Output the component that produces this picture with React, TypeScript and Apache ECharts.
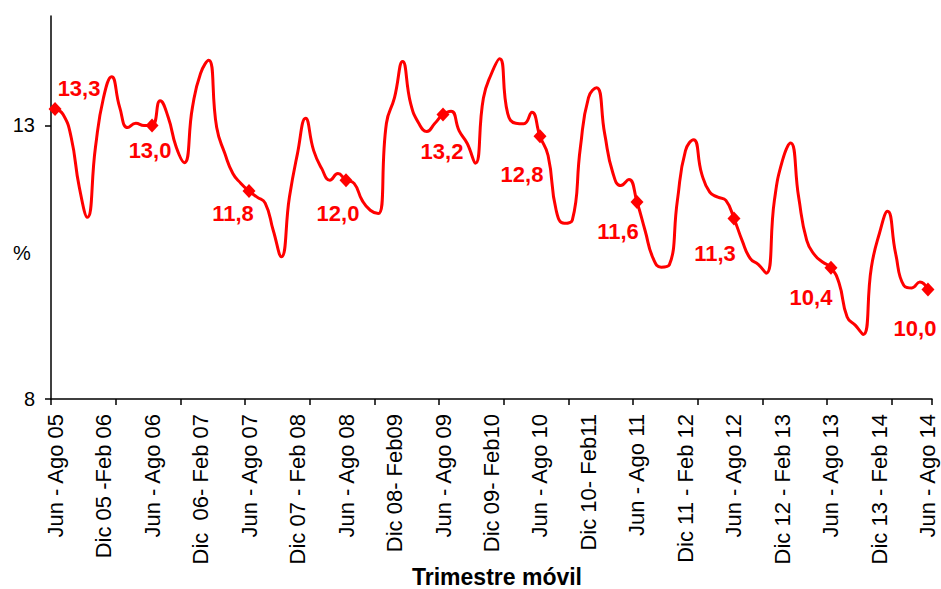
import React, { useEffect, useRef } from "react";
import * as echarts from "echarts";

// Labels shown on the category axis (every 6th month)
const tickLabels = [
  "Jun - Ago 05", "Dic 05 -Feb 06", "Jun - Ago 06", "Dic  06- Feb 07", "Jun - Ago 07",
  "Dic 07 - Feb 08", "Jun - Ago 08", "Dic 08- Feb09", "Jun - Ago 09", "Dic 09- Feb10",
  "Jun - Ago 10", "Dic 10- Feb11", "Jun - Ago 11", "Dic 11 - Feb 12", "Jun - Ago 12",
  "Dic 12 - Feb 13", "Jun - Ago 13", "Dic 13 - Feb 14", "Jun - Ago 14",
];

const monthNames = ["Ene", "Feb", "Mar", "Abr", "May", "Jun", "Jul", "Ago", "Sep", "Oct", "Nov", "Dic"];

// Monthly rolling-quarter rate (%), Jun-Ago 05 ... Jun-Ago 14
const rate = [
  13.3, 13.2, 12.78, 11.87, 11.32, 12.6, 13.51, 13.89, 13.33, 12.96, 13.04, 13.0,
  13.0, 13.45, 13.15, 12.6, 12.32, 13.33, 13.95, 14.19, 12.96, 12.49, 12.12, 11.94,
  11.8, 11.69, 11.58, 11.08, 10.6, 11.69, 12.49, 13.13, 12.54, 12.21, 12.0, 12.12,
  12.0, 11.94, 11.63, 11.45, 11.39, 13.04, 13.51, 14.17, 13.4, 13.04, 12.89, 13.04,
  13.2, 13.26, 12.9, 12.67, 12.31, 13.5, 13.95, 14.22, 13.22, 13.04, 13.03, 13.24,
  12.8, 12.45, 11.45, 11.21, 11.27, 12.6, 13.51, 13.69, 12.85, 12.14, 11.9, 12.01,
  11.6, 11.08, 10.57, 10.41, 10.45, 11.63, 12.54, 12.74, 12.12, 11.78, 11.69, 11.63,
  11.3, 10.9, 10.57, 10.46, 10.3, 11.63, 12.36, 12.68, 11.69, 10.9, 10.63, 10.5,
  10.4, 10.12, 9.5, 9.35, 9.18, 10.41, 11.03, 11.43, 10.66, 10.08, 10.03, 10.14,
  10.0,
];

// Indices of the highlighted (Jun - Ago) points
const markedIdx = [0, 12, 24, 36, 48, 60, 72, 84, 96, 108];
// Label offsets (px) relative to each marker
const labelOffsets = [
  [24, -21], [-2, 25], [-16, 22], [-8, 33], [-1, 37],
  [-18, 38], [-19, 29], [-19, 35], [-20, 30], [-13, 39],
];

const FONT = '"Liberation Sans", Arial, sans-serif';

function buildCategories(): string[] {
  const out: string[] = [];
  for (let i = 0; i < rate.length; i++) {
    if (i % 6 === 0) {
      out.push(tickLabels[i / 6]);
      continue;
    }
    const s = 5 + i;
    const e = s + 2;
    const m1 = monthNames[s % 12];
    const m3 = monthNames[e % 12];
    const y1 = String(5 + Math.floor(s / 12)).padStart(2, "0");
    const y3 = String(5 + Math.floor(e / 12)).padStart(2, "0");
    out.push(y1 === y3 ? `${m1} - ${m3} ${y3}` : `${m1} ${y1} - ${m3} ${y3}`);
  }
  return out;
}

export default function App() {
  const ref = useRef<HTMLDivElement>(null);

  useEffect(() => {
    document.body.style.margin = "0";
    if (!ref.current) return;
    const chart = echarts.init(ref.current, undefined, { renderer: "svg" });
    const categories = buildCategories();

    const seriesData = rate.map((v, i) => {
      const k = markedIdx.indexOf(i);
      if (k < 0) return v;
      return {
        value: v,
        symbol: "diamond",
        symbolSize: [13, 14],
        label: {
          show: true,
          position: "inside",
          offset: labelOffsets[k],
          formatter: (p: any) => Number(p.value).toFixed(1).replace(".", ","),
          color: "#FF0000",
          fontSize: 22,
          fontWeight: "bold",
          fontFamily: FONT,
        },
      };
    });

    chart.setOption({
      animation: false,
      grid: { left: 51, right: 9, top: 16, bottom: 190, containLabel: false },
      xAxis: {
        type: "category",
        data: categories,
        boundaryGap: true,
        axisLine: { show: true, lineStyle: { color: "#000", width: 1.5 } },
        axisTick: { show: true, interval: 7, length: 6, lineStyle: { color: "#000", width: 1.5 } },
        axisLabel: {
          interval: 5,
          rotate: 90,
          fontSize: 22,
          color: "#000",
          margin: 15,
          fontFamily: FONT,
        },
        splitLine: { show: false },
      },
      yAxis: {
        type: "value",
        min: 8,
        max: 15,
        interval: 1,
        axisLine: { show: true, lineStyle: { color: "#000", width: 1.5 } },
        axisTick: { show: true, length: 6, customValues: [8, 13], lineStyle: { color: "#000", width: 1.5 } },
        axisLabel: {
          customValues: [8, 13],
          formatter: (v: number) => (v === 8 || v === 13 ? String(v) : ""),
          fontSize: 20,
          color: "#000",
          margin: 16,
          fontFamily: FONT,
        },
        splitLine: { show: false },
      },
      series: [
        {
          type: "line",
          data: seriesData,
          smooth: 0.5,
          symbol: "none",
          showSymbol: true,
          showAllSymbol: true,
          lineStyle: { color: "#FF0000", width: 3 },
          itemStyle: { color: "#FF0000" },
          label: { show: false },
          emphasis: { disabled: true },
          z: 3,
        },
      ],
      graphic: [
        {
          type: "text",
          x: 22,
          y: 253,
          style: {
            text: "%",
            font: `20px ${FONT}`,
            fill: "#000",
            align: "center",
            verticalAlign: "middle",
            textAlign: "center",
            textVerticalAlign: "middle",
          },
        },
        {
          type: "text",
          x: 497,
          y: 577,
          style: {
            text: "Trimestre móvil",
            font: `bold 23px ${FONT}`,
            fill: "#000",
            align: "center",
            verticalAlign: "middle",
            textAlign: "center",
            textVerticalAlign: "middle",
          },
        },
      ],
    });

    return () => chart.dispose();
  }, []);

  return <div ref={ref} style={{ width: 941, height: 589 }} />;
}
